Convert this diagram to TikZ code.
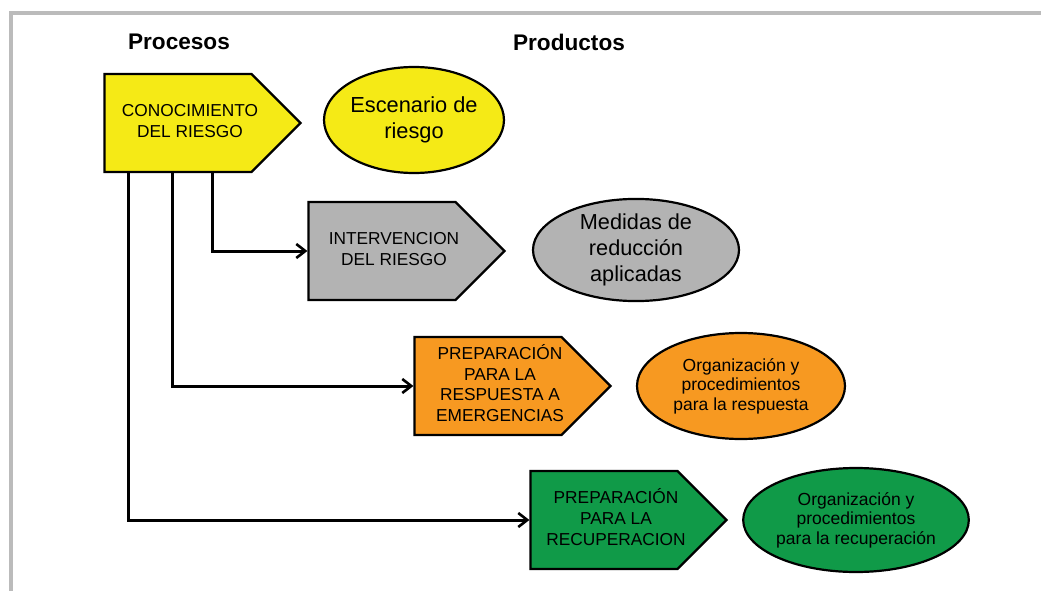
\documentclass[tikz,border=0pt]{standalone}
\usepackage{fontspec}
\setmainfont{Liberation Sans}
\usetikzlibrary{shapes.symbols,shapes.geometric,arrows.meta}
\definecolor{amarillo}{RGB}{245,234,22}
\definecolor{gris}{RGB}{179,179,179}
\definecolor{naranja}{RGB}{247,153,33}
\definecolor{verde}{RGB}{16,154,72}
\definecolor{marco}{RGB}{187,187,187}
\newcommand\proctexto[1]{\makebox[100pt]{\hspace*{24pt}\begin{tabular}{@{}c@{}}#1\end{tabular}}}
\tikzset{
  proceso/.style={shape=signal, signal to=east, signal pointer angle=90, draw, line width=2.2,
    minimum width=196, minimum height=98, inner sep=0,
    font=\fontsize{17.3}{20.7}\selectfont},
  producto/.style={ellipse, draw, line width=2.2, inner sep=0, align=center},
  flecha/.style={line width=3, -{Straight Barb[length=9,width=14,line width=2.6]}}
}
\begin{document}
\begin{tikzpicture}[x=1pt,y=-1pt]
\useasboundingbox (0,0) rectangle (1041,591);
\draw[marco, line width=4] (11,591) -- (11,13) -- (1041,13);
\node[font=\fontsize{22.6}{26}\selectfont\bfseries] (procesos) at (179,42) {Procesos};
\node[font=\fontsize{22.6}{26}\selectfont\bfseries] (productos) at (569,42) {Productos};
% procesos
\node[proceso, fill=amarillo] (cono) at (178,123) {\proctexto{CONOCIMIENTO\\DEL RIESGO}};
\node[proceso, fill=gris] (interv) at (382,251) {\proctexto{INTERVENCION\\DEL RIESGO}};
\node[proceso, fill=naranja] (resp) at (488,386) {\proctexto{PREPARACIÓN\\PARA LA\\RESPUESTA A\\EMERGENCIAS}};
\node[proceso, fill=verde] (recup) at (604,520) {\proctexto{PREPARACIÓN\\PARA LA\\RECUPERACION}};
% productos
\node[producto, fill=amarillo, minimum width=170, minimum height=106,
  font=\fontsize{21.8}{25.7}\selectfont] (esc) at (414,120) {Escenario de\\riesgo};
\node[producto, fill=gris, minimum width=206, minimum height=100,
  font=\fontsize{21.7}{26}\selectfont] (med) at (636,250) {Medidas de\\reducción\\aplicadas};
\node[producto, fill=naranja, minimum width=208, minimum height=106,
  font=\fontsize{17.5}{19.5}\selectfont] (org) at (741,386) {Organización y\\procedimientos\\para la respuesta};
\node[producto, fill=verde, minimum width=208, minimum height=104,
  font=\fontsize{17.5}{19.5}\selectfont] (orgrec) at (856,520) {Organización y\\procedimientos\\para la recuperación};
% conexiones
\draw[flecha] ([xshift=109]cono.south west) |- (interv.west);
\draw[flecha] ([xshift=69]cono.south west) |- (resp.west);
\draw[flecha] ([xshift=25]cono.south west) |- (recup.west);
\end{tikzpicture}
\end{document}
